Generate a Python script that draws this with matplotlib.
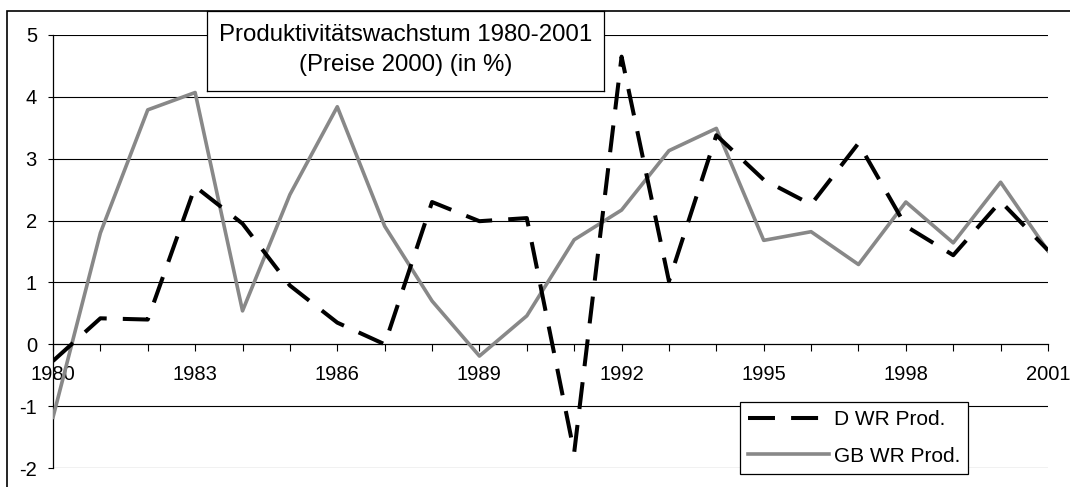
import matplotlib.pyplot as plt
import matplotlib.patches as patches
from matplotlib.lines import Line2D
import numpy as np

plt.rcParams['font.family'] = ['Liberation Sans', 'DejaVu Sans']
plt.rcParams['axes.unicode_minus'] = False

years = np.arange(1980, 2002)
d_wr = [-0.27, 0.42, 0.40, 2.55, 1.95, 0.95, 0.35, 0.0, 2.30, 1.99, 2.04, -1.75,
        4.65, 1.02, 3.38, 2.66, 2.26, 3.25, 1.91, 1.44, 2.31, 1.52]
gb_wr = [-1.18, 1.80, 3.79, 4.07, 0.54, 2.42, 3.84, 1.91, 0.70, -0.19, 0.46, 1.69,
         2.17, 3.13, 3.49, 1.68, 1.82, 1.29, 2.30, 1.64, 2.62, 1.51]
label_years = [1980, 1983, 1986, 1989, 1992, 1995, 1998, 2001]

W, H = 1070, 487
fig = plt.figure(figsize=(W/100, H/100), dpi=100)
ax = fig.add_axes([53/W, 1-468/H, (1048-53)/W, (468-35)/H])

# outer frame of the chart area
fig.patches.append(patches.Rectangle((7/W, -0.1), 1.2, 1-11/H+0.1,
                                     transform=fig.transFigure, fill=False,
                                     edgecolor='black', linewidth=1.2, zorder=0))

ax.set_xlim(1980, 2001)
ax.set_ylim(-2, 5)
for v in [-2, -1, 1, 2, 3, 4, 5]:
    ax.axhline(v, color='black', linewidth=0.8, zorder=1)

gray = '#888888'
ax.plot(years, gb_wr, color=gray, linewidth=2.6, zorder=3)
ax.plot(years, d_wr, color='black', linewidth=2.9, dashes=(6.7, 4.0), zorder=4)

ax.spines['top'].set_visible(False)
ax.spines['right'].set_visible(False)
ax.spines['bottom'].set_position(('data', 0))
ax.spines['left'].set_linewidth(0.9)
ax.spines['bottom'].set_linewidth(0.9)

ax.set_yticks(range(-2, 6))
ax.set_xticks(years)
ax.set_xticklabels([str(y) if y in label_years else '' for y in years])
ax.tick_params(axis='x', direction='out', length=5, width=0.8, labelsize=14.5, pad=10)
ax.tick_params(axis='y', direction='out', length=3.6, width=0.8, labelsize=14.5, pad=8)

# title box
ax_t = fig.add_axes([207/W, 1-91/H, (604-207)/W, (91-11)/H])
ax_t.set_xticks([])
ax_t.set_yticks([])
for s in ax_t.spines.values():
    s.set_linewidth(0.9)
ax_t.text(0.5, 0.70, 'Produktivitätswachstum 1980-2001', ha='center', va='center', fontsize=17.3)
ax_t.text(0.5, 0.325, '(Preise 2000) (in %)', ha='center', va='center', fontsize=17.3)

# legend
handles = [Line2D([], [], color='black', linewidth=2.9, dashes=(6.7, 4.0)),
           Line2D([], [], color=gray, linewidth=2.6)]
leg = fig.legend(handles, ['D WR Prod.', 'GB WR Prod.'],
                 loc='upper left', bbox_to_anchor=(740/W, 1-402/H),
                 frameon=True, fancybox=False, edgecolor='black', framealpha=1,
                 fontsize=15, handlelength=3.9, handletextpad=0.23, labelspacing=0.85,
                 borderpad=0.38, borderaxespad=0)
leg.get_frame().set_linewidth(0.9)

fig.savefig('out.png', dpi=100)
